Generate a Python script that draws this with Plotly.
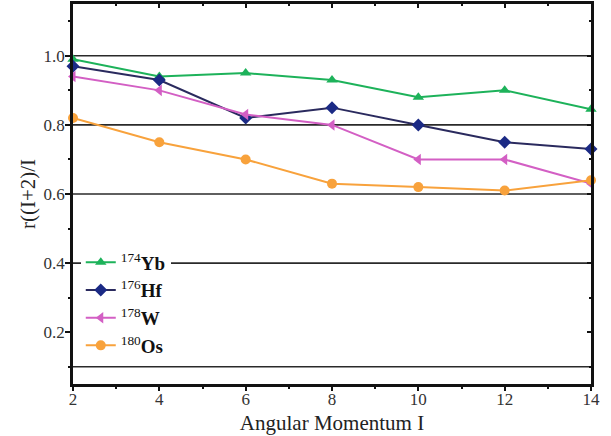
import plotly.graph_objects as go

angular_momentum = [2, 4, 6, 8, 10, 12, 14]
yb174 = [0.99, 0.94, 0.95, 0.93, 0.88, 0.90, 0.845]
hf176 = [0.97, 0.93, 0.82, 0.85, 0.80, 0.75, 0.73]
w178 = [0.94, 0.90, 0.83, 0.80, 0.70, 0.70, 0.63]
os180 = [0.82, 0.75, 0.70, 0.63, 0.62, 0.61, 0.64]
ref_lines = [1.0, 0.8, 0.6, 0.4, 0.1]

series = [
    ("<sup>174</sup><b>Yb</b>", yb174, "#1db25a", "#1db25a", "triangle-up"),
    ("<sup>176</sup><b>Hf</b>", hf176, "#2a2a5e", "#1b2a85", "diamond"),
    ("<sup>178</sup><b>W</b>", w178, "#d35fc4", "#d35fc4", "triangle-left"),
    ("<sup>180</sup><b>Os</b>", os180, "#f8a23c", "#f8a23c", "circle"),
]

fig = go.Figure()
for name, vals, lc, mc, sym in series:
    fig.add_trace(go.Scatter(
        x=angular_momentum, y=vals, name=name, mode="lines+markers",
        line=dict(color=lc, width=2),
        marker=dict(color=mc, symbol=sym, size=10),
        cliponaxis=False,
    ))

for v in ref_lines:
    fig.add_shape(type="line", xref="paper", yref="y", x0=0, x1=1, y0=v, y1=v,
                  line=dict(color="#2a2a2a", width=1.6), layer="below")

font_serif = "Liberation Serif, Times New Roman, serif"
fig.update_layout(
    width=611, height=436,
    margin=dict(l=73, r=20, t=4, b=52, autoexpand=False),
    paper_bgcolor="white", plot_bgcolor="white",
    font=dict(family=font_serif, color="#222"),
    showlegend=True,
    legend=dict(x=0.015, y=0.37, xanchor="left", yanchor="top",
                bgcolor="white", borderwidth=0,
                font=dict(family=font_serif, size=19, color="#111"),
                tracegroupgap=0),
    xaxis=dict(range=[2, 14], tickmode="linear", tick0=2, dtick=2, automargin=False,
               ticks="outside", ticklen=4, tickwidth=2, tickcolor="#111", ticklabelstandoff=-6,
               minor=dict(dtick=1, ticks="outside", ticklen=2, tickwidth=1.5, tickcolor="#111"),
               showline=True, linecolor="#111", linewidth=2.5,
               showgrid=False, zeroline=False,
               tickfont=dict(size=17, family=font_serif, color="#333"),
               title=dict(text="Angular Momentum I", font=dict(size=21, family=font_serif, color="#222"), standoff=8)),
    xaxis2=dict(range=[2, 14], overlaying="x", side="top", tickmode="linear", tick0=2, dtick=2, automargin=False,
                ticks="inside", ticklen=4, tickwidth=2, tickcolor="#111",
                minor=dict(dtick=1, ticks="inside", ticklen=2, tickwidth=1.5, tickcolor="#111"),
                showticklabels=False, showline=True, linecolor="#111", linewidth=2.5,
                showgrid=False, zeroline=False),
    yaxis=dict(range=[0.05, 1.15], tickmode="linear", tick0=0.2, dtick=0.2, tickformat=".1f", automargin=False,
               ticks="outside", ticklen=5, tickwidth=2, tickcolor="#111", ticklabelstandoff=-3,
               minor=dict(dtick=0.1, tick0=0.1, ticks="outside", ticklen=2, tickwidth=1.5, tickcolor="#111"),
               showline=True, linecolor="#111", linewidth=2.5,
               showgrid=False, zeroline=False,
               tickfont=dict(size=17, family=font_serif, color="#333"),
               title=dict(text="r((I+2)/I", font=dict(size=21, family=font_serif, color="#222"), standoff=3)),
    yaxis2=dict(range=[0.05, 1.15], overlaying="y", side="right", tickmode="linear", tick0=0.2, dtick=0.2, automargin=False,
                ticks="inside", ticklen=4, tickwidth=2, tickcolor="#111",
                minor=dict(dtick=0.1, tick0=0.1, ticks="inside", ticklen=2, tickwidth=1.5, tickcolor="#111"),
                showticklabels=False, showline=True, linecolor="#111", linewidth=2.5,
                showgrid=False, zeroline=False),
)
# invisible trace to activate the mirror axes
fig.add_trace(go.Scatter(x=[2], y=[0.05], xaxis="x2", yaxis="y2", mode="markers",
                         marker=dict(opacity=0), showlegend=False, hoverinfo="skip"))

fig.write_html("out.html", config={"displayModeBar": False},
               post_script="document.body.style.margin='0';document.body.style.overflow='hidden';")
